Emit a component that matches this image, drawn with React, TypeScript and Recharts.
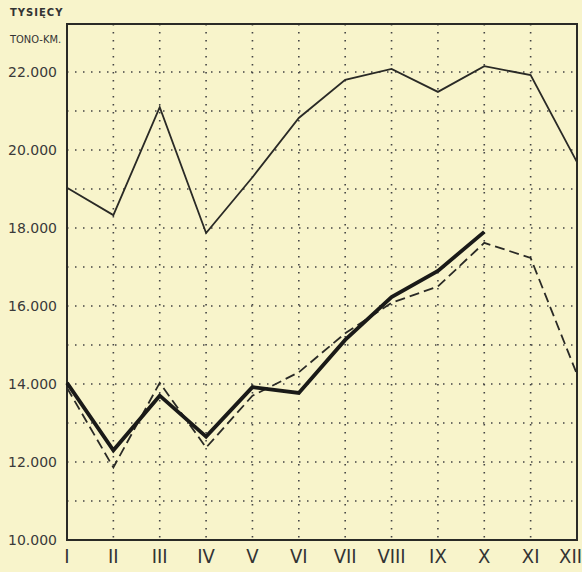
import { CartesianGrid, Line, LineChart, ReferenceArea, XAxis, YAxis } from "recharts";

const months = ["I", "II", "III", "IV", "V", "VI", "VII", "VIII", "IX", "X", "XI", "XII"];
const upperLine = [19030, 18330, 21100, 17870, 19300, 20820, 21800, 22080, 21490, 22150, 21920, 19690];
const thickLine = [14030, 12300, 13700, 12650, 13920, 13770, 15130, 16230, 16900, 17900, null, null];
const dashedLine = [13900, 11860, 14030, 12370, 13700, 14300, 15300, 16080, 16500, 17620, 17230, 14250];
const yTicks = [10000, 11000, 12000, 13000, 14000, 15000, 16000, 17000, 18000, 19000, 20000, 21000, 22000];

const data = months.map((m, i) => ({
  month: m,
  upper: upperLine[i],
  thick: thickLine[i],
  dashed: dashedLine[i],
}));

const ink = "#2a2a26";
const paper = "#f8f4cb";

// roman month labels; the last one hugs the right edge like in the print
function MonthTick(props: any) {
  const { x, y, payload, index } = props;
  const last = index === months.length - 1;
  return (
    <text
      x={last ? x + 5 : x}
      y={y + 1}
      dy="0.71em"
      textAnchor={last ? "end" : "middle"}
      fill="#333"
      fontSize={20}
      fontFamily="Liberation Sans Narrow, DejaVu Sans Condensed, sans-serif"
    >
      {payload.value}
    </text>
  );
}

export default function App() {
  return (
    <div style={{ position: "fixed", left: 0, top: 0, width: 582, height: 572, background: paper, overflow: "hidden" }}>
      <div style={{ position: "absolute", left: 10, top: 7, fontFamily: "DejaVu Sans, sans-serif", fontWeight: "bold", fontSize: 10, color: "#333", letterSpacing: 1 }}>
        TYSIĘCY
      </div>
      <div style={{ position: "absolute", left: 10, top: 33, fontFamily: "DejaVu Sans Condensed, DejaVu Sans, sans-serif", fontSize: 11, color: "#333" }}>
        TONO-KM.
      </div>
      <LineChart width={582} height={572} data={data} margin={{ top: 24, right: 5, bottom: 0, left: 0 }}>
        <CartesianGrid stroke="#444" strokeWidth={1.6} strokeDasharray="1.5 6.5" />
        <XAxis
          dataKey="month"
          height={32}
          axisLine={false}
          tickLine={false}
          tick={<MonthTick />}
          interval={0}
        />
        <YAxis
          width={67}
          domain={[10000, 23230]}
          ticks={yTicks}
          allowDataOverflow
          axisLine={false}
          tickLine={false}
          tickFormatter={(v: number) => (v % 2000 === 0 ? `${v / 1000}.000` : "")}
          tick={{ fill: "#3a3a3a", fontSize: 14, fontFamily: "DejaVu Sans, sans-serif" }}
          tickMargin={4}
        />
        <ReferenceArea x1="I" x2="XII" y1={10000} y2={23230} fill="none" stroke={ink} strokeWidth={2} ifOverflow="visible" />
        <Line dataKey="upper" stroke={ink} strokeWidth={1.8} dot={false} isAnimationActive={false} />
        <Line dataKey="dashed" stroke={ink} strokeWidth={1.8} strokeDasharray="10 5" dot={false} isAnimationActive={false} />
        <Line dataKey="thick" stroke="#1a1a18" strokeWidth={3.8} dot={false} isAnimationActive={false} connectNulls={false} />
      </LineChart>
    </div>
  );
}
